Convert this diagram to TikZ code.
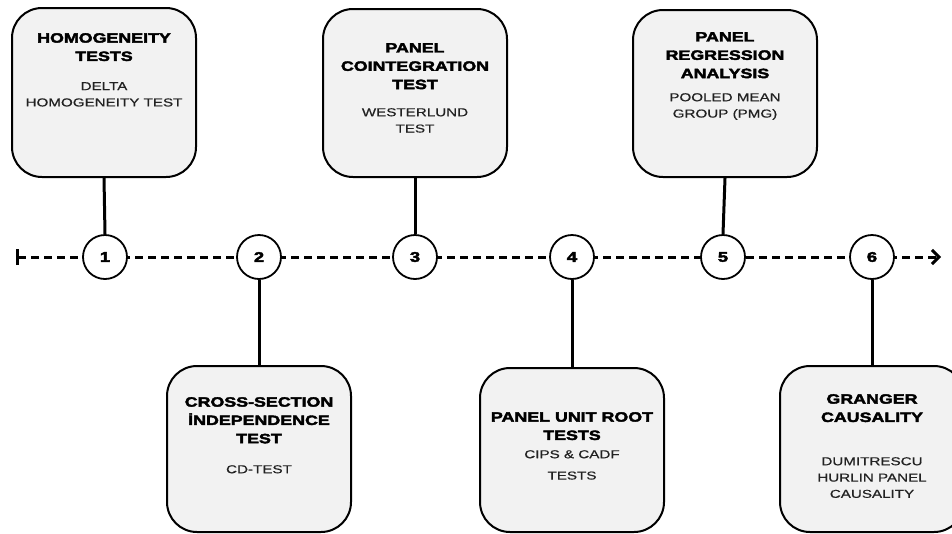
\documentclass[tikz,border=0pt]{standalone}
\usepackage{fontspec}
\setmainfont{Liberation Sans}[FakeStretch=1.32, UprightFeatures={FakeBold=0.6}, BoldFeatures={FakeBold=3}]
\usetikzlibrary{arrows.meta}
\definecolor{boxfill}{HTML}{F2F2F2}
\definecolor{subtext}{HTML}{222222}
\tikzset{
 stepbox/.style={draw=black, line width=2pt, fill=boxfill, rounded corners=30pt, minimum width=184pt, inner sep=0pt},
 ttl/.style={anchor=north, inner sep=0pt, align=center, font=\fontsize{13.5}{18.3}\selectfont\bfseries},
 sub/.style={anchor=north, inner sep=0pt, align=center, text=subtext, font=\fontsize{11.5}{16.3}\selectfont},
 num/.style={circle, draw=black, line width=1.8pt, fill=white, minimum size=44pt, inner sep=0pt, font=\fontsize{14}{14}\selectfont\bfseries},
 link/.style={line width=3pt},
 timeline/.style={line width=3pt, dash pattern=on 8pt off 5pt, {Bar[width=16pt]}-{Straight Barb[length=7pt,width=14pt]}}
}
\begin{document}
\begin{tikzpicture}[x=1pt,y=-1pt]
\useasboundingbox (0,0) rectangle (952,533);
\clip (0,0) rectangle (952,533);
% timeline
\coordinate (start) at (16,257);
\coordinate (end) at (941,257);
\draw[timeline] (start) -- (end);
% circles
\node[num] (c1) at (105,257) {1};
\node[num] (c2) at (259,257) {2};
\node[num] (c3) at (415,257) {3};
\node[num] (c4) at (572,257) {4};
\node[num] (c5) at (723,257) {5};
\node[num] (c6) at (872,257) {6};
% boxes
\node[stepbox, minimum height=169pt] (b1) at (104,92.5) {};
\node[stepbox, minimum height=168pt] (b3) at (415,93) {};
\node[stepbox, minimum height=167pt] (b5) at (725,93.5) {};
\node[stepbox, minimum height=166pt] (b2) at (259,449) {};
\node[stepbox, minimum height=164pt] (b4) at (572,450) {};
\node[stepbox, minimum height=166pt] (b6) at (872,449) {};
% connectors
\draw[link] (b1.south) -- (c1.north);
\draw[link] (b3.south) -- (c3.north);
\draw[link] (b5.south) -- (c5.north);
\draw[link] (c2.south) -- (b2.north);
\draw[link] (c4.south) -- (b4.north);
\draw[link] (c6.south) -- (b6.north);
% texts
\node[ttl] (t1) at (104,33) {HOMOGENEITY\\TESTS};
\node[sub] (s1) at (104,82) {DELTA\\HOMOGENEITY TEST};
\node[ttl] (t3) at (415,43) {PANEL\\COINTEGRATION\\TEST};
\node[sub] (s3) at (415,108) {WESTERLUND\\TEST};
\node[ttl] (t5) at (725,32) {PANEL\\REGRESSION\\ANALYSIS};
\node[sub] (s5) at (725,93) {POOLED MEAN\\GROUP (PMG)};
\node[ttl] (t2) at (259,397) {CROSS-SECTION\\İNDEPENDENCE\\TEST};
\node[sub] (s2) at (259,465) {CD-TEST};
\node[ttl] (t4) at (572,412) {PANEL UNIT ROOT\\TESTS};
\node[sub] (s4) at (572,450) {CIPS \& CADF\\[5pt]TESTS};
\node[ttl] (t6) at (872,394) {GRANGER\\CAUSALITY};
\node[sub] (s6) at (872,457) {DUMITRESCU\\HURLIN PANEL\\CAUSALITY};
\end{tikzpicture}
\end{document}
